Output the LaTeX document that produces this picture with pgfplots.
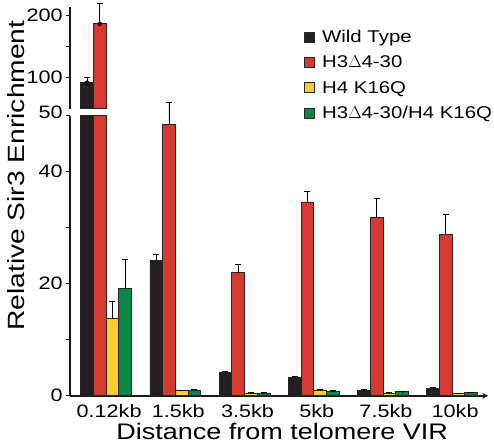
\documentclass[border=0pt]{standalone}
\usepackage{fontspec}
\setmainfont{Liberation Sans}[FakeStretch=1.2]
\usepackage{pgfplots}
\pgfplotsset{compat=1.18}
\definecolor{wt}{RGB}{35,31,32}
\definecolor{rd}{RGB}{214,58,46}
\definecolor{yl}{RGB}{250,205,40}
\definecolor{gr}{RGB}{10,135,70}
\pgfplotsset{
  errb/.style={error bars/y dir=plus, error bars/y explicit,
    error bars/error bar style={black, line width=0.9pt},
    error bars/error mark options={rotate=90, mark size=3pt, black, line width=0.9pt}},
  mybar/.style={ybar, bar width=12.7pt, bar shift=0pt, draw=black!85, line width=0.7pt, errb},
  base/.style={scale only axis, width=418pt, xmin=-0.52, xmax=5.52,
    axis y line=left, axis line style={-, line width=1.6pt, black!90},
    ytick style={line width=1.4pt, black!90}, major tick length=4pt, minor tick length=4pt,
    tick align=outside, ytick pos=left,
    /pgf/number format/assume math mode=true,
    ticklabel style={font=\fontsize{18}{18}\selectfont}},
}
\begin{document}
\begin{tikzpicture}
\begin{axis}[base, at={(0pt,0pt)}, anchor=south west, height=280pt,
  ymin=0, ymax=50, ytick={0,20,40}, minor ytick={10,30},
  extra y ticks={50}, extra y tick style={yticklabel style={yshift=3pt}},
  axis x line=bottom, xtick={0,1,2,3,4,5},
  xticklabels={0.12kb,1.5kb,3.5kb,5kb,7.5kb,10kb},
  xtick style={draw=none},
  xticklabel style={anchor=base, yshift=-20pt, xshift=3pt},
  xlabel={Distance from telomere VIR},
  xlabel style={font=\fontsize{22.5}{22.5}\selectfont, at={(axis description cs:0.5,0)}, anchor=base, yshift=-44pt, xshift=3pt},
  clip=false,
  legend style={at={(0.56,1.314)}, anchor=north west, draw=none, fill=none,
    font=\fontsize{17}{17}\selectfont, inner sep=0pt, row sep=8pt,
    /tikz/every odd column/.append style={column sep=5pt}},
  legend cell align=left,
  legend image code/.code={\draw[#1, draw=black!85, line width=0.8pt] (0pt,-5pt) rectangle (10pt,5pt);},
]
\addplot[mybar, fill=wt] coordinates {
 (-0.2753,50) (0.7247,24.1) +- (0,1.1) (1.7247,4.1) +- (0,0.3) (2.7247,3.2) +- (0,0.2) (3.7247,1.0) +- (0,0.1) (4.7247,1.25) +- (0,0.2)};
\addlegendentry{Wild Type}
\addplot[mybar, fill=rd] coordinates {
 (-0.0918,50) (0.9082,48.4) +- (0,3.9) (1.9082,22.0) +- (0,1.4) (2.9082,34.6) +- (0,1.8) (3.9082,31.9) +- (0,3.3) (4.9082,28.75) +- (0,3.6)};
\addlegendentry{H3$\Delta$4-30}
\addplot[mybar, fill=yl] coordinates {
 (0.0918,13.75) +- (0,3.15) (1.0918,0.9) +- (0,0.1) (2.0918,0.5) +- (0,0.05) (3.0918,1.0) +- (0,0.1) (4.0918,0.45) +- (0,0.05) (5.0918,0.35) +- (0,0.05)};
\addlegendentry{H4 K16Q}
\addplot[mybar, fill=gr] coordinates {
 (0.2753,19.1) +- (0,5.2) (1.2753,1.0) +- (0,0.1) (2.2753,0.5) +- (0,0.05) (3.2753,0.8) +- (0,0.05) (4.2753,0.7) +- (0,0.05) (5.2753,0.6) +- (0,0.05)};
\addlegendentry{H3$\Delta$4-30/H4 K16Q}
\node[rotate=90, inner ysep=7pt, font=\fontsize{23.5}{23.5}\selectfont] at (rel axis cs:-0.1304,0.786) {Relative Sir3 Enrichment};
\end{axis}
\begin{axis}[base, at={(0pt,287pt)}, anchor=south west, height=102pt,
  ymin=50, ymax=214.5, ytick={100,200}, minor ytick={150},
  axis x line=none, xtick=\empty, clip=false]
\addplot[fill=wt, draw=black!85, line width=0.7pt] coordinates {(-0.3671,50) (-0.3671,92) (-0.1835,92) (-0.1835,50)} -- cycle;
\addplot[fill=rd, draw=black!85, line width=0.7pt] coordinates {(-0.1835,50) (-0.1835,187) (0,187) (0,50)} -- cycle;
\addplot[only marks, mark=none, errb] coordinates {(-0.2753,92) +- (0,8) (-0.0918,187) +- (0,33)};
\end{axis}
\end{tikzpicture}
\end{document}
